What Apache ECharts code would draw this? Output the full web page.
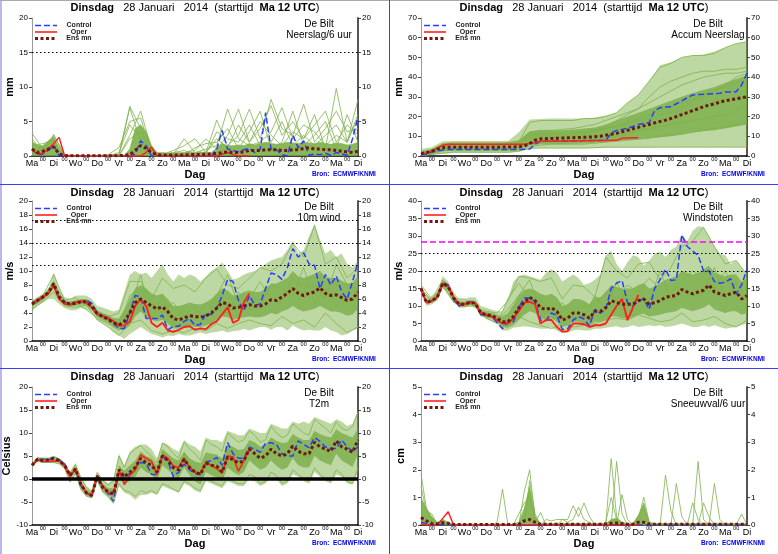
<!DOCTYPE html>
<html><head><meta charset="utf-8">
<script src="https://cdn.jsdelivr.net/npm/echarts@6/dist/echarts.min.js"></script>
<style>html,body{margin:0;padding:0;background:#fff}#c{width:778px;height:554px}</style>
</head><body><div id="c"></div>
<script>
// ---------- tick labels ----------
const dayNames = ['Ma','Di','Wo','Do','Vr','Za','Zo','Ma','Di','Wo','Do','Vr','Za','Zo','Ma','Di'];
const midnightLabel = '00';
const titleText = '{b|Dinsdag}   28 Januari   2014  (starttijd  {b|Ma 12 UTC})';
const station = 'De Bilt';
const source = 'Bron:  ECMWF/KNMI';
const legendNames = ['Control','Oper','Ens mn'];

// ---------- panel 1: Neerslag/6 uur (6-hourly, 61 steps) ----------
const precipControl = [1.0,0.2,0.3,0.8,1.5,0.1,0,0,0,0, 0,0,0,0,0,0,0,0,0,0.3, 2.2,1.5,0,0,0,0,0,0,0,0, 0,0,0,0,1.0,3.7,1.0,0.8,0.6,0.9, 1.1,0.5,1.0,6.3,1.0,0.9,0.2,0,3.0,1.2, 2.2,0.1,0.3,0.2,0.4,0.1,0.5,0.3,0.1,2.5, 5.7];
const precipOper = [1.0,0.3,0.4,1.0,1.8,2.7,0,0,0,0, 0,0,0,0,0,0,0,0,0,0, 0,0.5,1.3,0,0,0,0,0,0,0, 0,0,0,0,0,0.3,0.5,0.2,0,0, 0];
const precipMean = [1.0,0.5,0.7,1.0,1.3,0.3,0.05,0.02,0.02,0.02, 0.02,0.02,0.02,0.02,0.05,0.05,0.05,0.1,0.2,0.8, 1.5,1.1,0.5,0.2,0.15,0.15,0.15,0.15,0.15,0.2, 0.2,0.2,0.25,0.3,0.35,0.5,0.6,0.5,0.5,0.6, 0.8,0.8,0.8,0.9,0.9,0.9,0.8,0.8,0.9,0.9, 1.1,1.2,1.0,1.0,0.9,0.9,0.8,0.7,0.6,0.5, 0.7];
const precipDense = [2.0,1.5,1.5,2.2,2.8,0.8,0.2,0.1,0.1,0.1, 0.1,0.1,0.1,0.1,0.1,0.2,0.1,0.1,1.0,4.0, 4.5,3.5,1.5,0.5,0.4,0.4,0.4,0.5,0.4,0.5, 0.5,0.6,0.5,0.5,1.2,1.8,1.5,1.5,1.6,1.5, 1.8,1.6,1.8,2.0,1.8,1.7,1.8,2.0,1.9,1.8, 2.0,1.9,1.8,2.0,1.8,1.7,1.9,1.8,1.6,1.7, 2.0];
// members, 12-hourly (31 steps)
const precipMember1 = [3.3,1.0,3.0,0,0,0,0,0,0,7.0, 2.0,0,0,0,0.5,0.8,2.5,1.0,3.0,6.8, 2.0,4.0,7.3,3.0,5.0,2.5,6.0,1.0,9.8,2.0, 8.2];
const precipMember2 = [1.5,1.8,2.2,0,0,0,0,0.2,1.2,5.0, 5.5,0.5,0.2,0.8,1.5,2.5,0.5,5.2,1.5,3.0, 6.8,2.5,8.2,4.0,3.0,7.5,2.0,4.0,6.5,3.5, 4.0];
const precipMember3 = [2.5,0.5,1.5,0,0,0,0,0,0,3.0, 6.5,1.0,0,0.3,0.2,1.2,1.8,2.0,4.0,1.0, 3.5,6.5,1.0,2.0,6.5,1.5,3.0,5.0,1.0,6.0, 2.0];
const precipMember4 = [1.0,0.3,3.1,0.2,0,0,0,0,0.5,4.5, 2.5,0.2,0.5,0.2,2.5,0.5,1.0,1.5,6.8,2.5, 1.5,2.0,3.5,7.0,2.5,4.5,3.5,1.5,3.0,2.0, 5.5];
const precipMember5 = [2.0,1.2,2.5,0,0,0,0,0,0.2,7.2, 4.0,0.3,0.1,0.2,0.5,0.3,0.5,2.5,1.2,4.5, 2.0,5.0,3.0,1.5,3.5,2.5,4.5,6.5,2.0,4.5, 3.0];
const precipMember6 = [0.8,0.8,1.8,0,0,0,0,0,0,2.5, 3.5,0.1,0.3,0.5,0.8,0.2,0.3,3.5,2.5,2.0, 4.5,1.5,2.0,5.0,1.5,3.0,1.5,3.0,4.5,2.0, 6.0];
const precipLevels = [15];

// ---------- panel 2: Accum Neerslag ----------
const accumControl = [0.5,1.0,2.0,2.5,3.0,3.3,3.3,3.3,3.3,3.3, 3.3,3.3,3.3,3.3,3.3,3.3,3.3,3.3,3.3,3.4, 3.5,6.0,7.5,7.5,7.6,7.6,7.6,7.7,7.7,7.7, 7.8,7.8,7.8,7.9,8.0,11.5,13.0,13.5,14.0,15.0, 16.0,16.5,17.0,23.0,24.5,24.8,25.0,26.5,28.0,29.5, 31.0,31.2,31.3,31.5,31.6,31.8,32.5,32.5,32.6,36.0, 42.0];
const accumOper = [1.0,1.5,2.5,4.0,5.5,6.0,6.0,6.0,6.0,6.0, 6.0,6.0,6.0,6.0,6.0,6.0,6.0,6.0,6.0,6.0, 6.3,6.8,7.5,7.5,7.5,7.5,7.6,7.6,7.6,7.7, 7.7,7.7,7.8,7.8,7.9,8.0,8.0,9.0,9.1,9.2, 9.2];
const accumMean = [1.2,1.7,2.5,3.5,4.2,4.5,4.5,4.5,4.5,4.5, 4.5,4.5,4.5,4.5,4.5,4.5,4.6,4.6,4.7,5.0, 6.3,8.0,8.7,8.8,8.9,9.0,9.1,9.2,9.3,9.4, 9.5,9.6,9.8,10.0,10.5,11.0,11.5,12.3,13.0,13.8, 14.5,15.3,16.0,16.8,17.5,18.2,19.0,20.0,21.0,22.0, 23.0,24.0,25.0,25.8,26.5,27.3,28.0,28.5,29.0,29.5, 30.0];
// 12-hourly envelopes and members (31 steps)
const accumLow = [0.2,0.8,1.0,1.5,1.5,1.5,1.5,1.5,1.5,2.0, 3.5,4.0,4.0,4.0,4.0,4.0,4.0,4.2,4.3,4.3, 4.3,4.3,4.4,4.4,4.4,4.4,4.5,4.5,4.5,4.5, 4.5];
const accumHigh = [3.5,4.5,7.5,7.5,7.5,7.5,7.5,7.5,7.5,12.0, 18.5,18.8,19,19,19,19,19.5,20.5,22,27, 31,38,46,47.5,50,51,51.5,53,55,57, 58];
const accumCoreLow = [0.5,1.5,2.5,3.0,3.0,3.0,3.0,3.0,3.0,3.5, 5.5,6.0,6.0,6.0,6.2,6.4,6.7,7.0,7.5,8.0, 8.5,9.0,9.5,10.0,11.0,12.0,12.5,13.0,14.0,15.0, 16.0];
const accumCoreHigh = [2.5,3.5,6.5,6.5,6.5,6.5,6.5,6.5,6.8,8.0, 12.5,13.0,13.0,13.0,13.5,14.0,14.5,16.0,18.0,20.0, 22.0,24.0,26.0,28.0,30.0,32.0,33.5,35.0,37.0,39.0, 41.0];
const accumMember1 = [1,3,6,7,7,7,7,7,7,7, 17,18,18,18,18,19,19,20,22,27, 31,38,45,47,50,51,51,52,55,57, 58];
const accumMember2 = [0.5,2,5,5.5,5.5,5.5,5.5,5.5,5.5,6, 12,13,13,13.5,14,15,16,18,20,22, 24,30,35,38,40,42,43,43,44,44, 45];
const accumMember3 = [0.3,1.5,4,4.5,4.5,4.5,4.5,4.5,4.5,5, 9,10,10,10,10.5,11,12,14,15,16, 18,19,21,22,25,28,30,33,36,40, 42];
const accumMember4 = [0.8,2,3,3,3,3,3,3,3,3.5, 7,7.5,7.5,7.5,7.5,8,8,9,10,11, 13,14,15,16,17,18,19,20,21,23, 25];
const accumMember5 = [0.2,1,2.5,3,3,3,3,3,3,3, 5,5.5,6,6,6,6,6.5,7,7.5,8, 8.5,9,10,10.5,11,12,13,14,15,16, 17];
const accumMember6 = [0.5,1.5,3.5,4,4,4,4,4,4,4.5, 10,11,11,11,11.5,12,13,15,18,21, 24,27,30,33,36,38,40,41,42,42, 43];
const accumMember7 = [0.2,0.8,1.5,2,2,2,2,2,2,2.5, 4,4,4,4,4,4,4.2,4.5,4.5,4.5, 4.5,4.5,4.5,4.5,4.5,4.5,4.5,4.5,4.5,4.5, 4.5];
const accumMember8 = [1,2.5,5.5,6,6,6,6,6,6,6.5, 11,11.5,11.5,12,12,12.5,13,14,15,17, 19,21,23,25,27,29,31,33,35,37, 39];

// ---------- panel 3: 10m wind ----------
const windControl = [5.2,5.7,6.2,6.8,7.8,6.2,5.5,5.2,5.3,5.6, 5.8,5.4,4.0,3.5,3.2,2.5,1.8,1.8,4.0,6.5, 6.3,3.2,3.2,3.2,3.7,1.6,2.1,2.1,2.8,3.2, 2.2,2.4,3.9,3.8,4.7,6.5,8.8,8.5,5.8,4.3, 6.5,5.1,5.3,7.5,9.7,9.5,8.8,10.5,13.2,12.0, 12.6,11.0,10.8,7.5,9.5,8.0,9.3,7.0,6.0,8.5, 11.3];
const windOper = [5.3,5.8,6.3,6.8,7.9,6.0,5.3,5.2,5.5,5.7, 5.5,4.8,3.8,3.6,3.3,2.8,2.2,2.2,2.8,5.0, 6.0,5.0,2.6,2.0,2.6,1.5,1.3,1.6,2.0,2.1, 1.6,1.8,1.7,2.4,2.8,3.8,4.8,2.6,3.0,5.5, 6.8];
const windMean = [5.3,5.8,6.3,6.9,8.2,6.3,5.5,5.3,5.4,5.6, 5.6,5.0,3.9,3.5,3.1,2.6,2.3,2.8,4.0,5.5, 6.0,5.5,5.0,4.6,4.9,4.2,3.2,3.0,3.3,3.6, 3.5,3.4,3.6,4.0,4.7,5.5,5.3,4.7,4.8,5.0, 5.2,5.0,5.0,5.3,5.9,5.8,6.3,6.8,7.5,6.8, 6.5,6.8,7.0,7.6,6.8,6.5,6.6,6.2,5.8,6.0, 7.0];
const windLow = [4.2,5.0,5.5,6.0,6.0,5.3,4.7,4.4,4.4,4.7, 4.5,4.0,3.0,2.5,2.0,1.2,0.8,0.3,1.0,1.5, 2.0,1.5,1.0,0.8,0.5,0.8,0.7,1.0,0.8,0.8, 1.0,1.2,1.0,1.2,1.3,1.5,1.2,1.4,1.5,1.7, 1.5,1.8,2.0,2.0,1.6,2.0,2.0,1.5,2.2,1.8, 1.5,1.6,1.5,1.5,2.0,1.5,1.3,0.8,1.0,1.5, 1.8];
const windHigh = [5.8,6.3,6.8,7.5,9.8,7.5,6.3,6.0,6.5,6.5, 6.5,6.0,5.0,4.8,4.5,4.2,4.5,7.0,9.5,10.0, 9.5,9.8,9.0,10.0,11.0,9.5,8.5,9.5,9.0,9.5, 9.2,8.5,9.2,10.0,10.5,11.2,10.0,8.8,9.0,9.5, 9.8,10.0,10.5,11.0,11.5,11.8,12.0,13.0,14.3,12.5, 13.0,15.0,16.7,14.5,12.5,13.0,12.0,12.5,11.0,10.5, 11.5];
const windCoreLow = [4.9,5.4,5.9,6.5,7.6,5.8,5.1,4.9,5.0,5.2, 5.2,4.5,3.4,3.0,2.6,2.0,1.6,1.6,2.2,3.5, 4.2,3.5,3.0,2.8,3.0,2.5,1.8,1.8,2.0,2.2, 2.0,2.0,2.2,2.5,3.0,3.5,3.4,3.0,3.2,3.4, 3.5,3.4,3.4,3.6,4.0,3.8,4.2,4.5,5.0,4.5, 4.2,4.4,4.6,5.0,4.6,4.2,4.2,4.0,3.6,3.8, 4.6];
const windCoreHigh = [5.6,6.0,6.6,7.2,8.6,6.8,5.9,5.6,5.8,6.0, 6.0,5.5,4.4,4.0,3.7,3.3,3.2,4.5,6.0,7.5, 8.0,7.5,6.8,6.5,6.8,6.0,5.0,5.0,5.2,5.5, 5.3,5.2,5.5,6.0,6.8,7.5,7.2,6.5,6.6,7.0, 7.2,7.0,7.0,7.5,8.2,8.2,8.6,9.0,10.0,9.2, 9.0,9.3,9.6,10.0,9.2,9.0,9.0,8.6,8.2,8.3, 9.3];
const windMember1 = [5.6,6.5,9.5,5.8,6.2,5.0,4.2,3.5,4.0,8.5, 8.5,6.0,9.0,7.5,8.0,7.0,9.0,10.3,8.0,7.5, 9.0,10.5,10.0,11.0,14.0,12.0,16.5,11.0,12.0,9.0, 10.5];
const windMember2 = [4.6,5.6,7.0,5.0,4.8,5.2,3.0,2.0,0.8,2.5, 3.0,1.5,1.0,1.5,1.2,1.8,1.5,2.5,1.8,2.5, 3.0,2.5,2.2,3.5,2.5,3.0,2.0,4.0,2.5,1.2, 2.0];
const windMember3 = [5.2,6.2,8.5,5.3,5.8,5.3,3.8,3.0,2.0,6.5, 7.5,5.5,4.0,5.5,3.5,5.0,3.0,6.5,9.5,5.0, 6.0,8.5,6.0,5.5,9.0,7.5,8.0,6.0,11.0,8.0, 7.5];
const windMember4 = [5.0,5.8,7.8,5.5,5.5,4.5,3.2,2.5,1.5,4.5, 9.5,3.0,6.5,2.5,4.5,3.0,5.5,4.5,4.0,7.0, 4.5,5.0,8.0,7.5,6.5,10.5,5.5,7.5,5.0,6.5, 5.5];
const windLevels = [10.8,13.9,17.2];

// ---------- panel 4: Windstoten ----------
const gustControl = [15.0,11.0,11.5,12.5,16.8,16.0,12.0,10.0,10.8,11.2, 10.8,7.5,7.3,7.0,5.3,3.5,5.5,5.5,9.5,12.3, 12.3,11.3,6.0,5.8,8.0,7.3,3.3,3.5,6.0,7.0, 6.3,4.3,9.0,8.0,9.0,15.0,16.5,17.3,11.0,10.0, 11.5,12.0,9.0,15.0,17.5,20.5,17.3,17.5,30.3,27.0, 25.7,24.5,20.0,20.0,17.0,16.5,16.8,17.8,13.5,16.0, 20.5];
const gustOper = [14.8,11.0,11.5,12.5,16.5,15.5,12.5,10.5,10.5,11.0, 10.8,8.0,7.5,7.0,6.0,5.0,5.0,6.5,8.5,11.0, 11.2,10.5,5.0,6.0,6.0,4.0,2.7,2.8,5.0,5.0, 4.8,4.0,4.5,4.5,5.0,7.5,10.0,12.0,6.0,9.5, 13.2];
const gustMean = [15.0,11.0,11.5,12.5,16.5,15.5,12.3,10.5,10.5,11.0, 10.8,8.0,7.5,7.3,6.5,5.5,5.5,7.0,9.5,11.0, 12.5,11.5,9.5,9.0,9.5,8.5,6.0,6.5,8.0,8.0, 7.5,6.5,8.5,8.5,9.5,11.5,11.0,10.5,10.5,10.5, 11.5,12.0,10.5,11.0,11.5,12.5,12.8,13.0,14.7,14.0, 13.5,14.0,14.5,16.0,14.0,13.5,13.0,13.5,14.0,12.0, 13.0];
const gustLow = [14.0,10.0,10.5,11.5,15.0,14.0,11.0,9.5,9.5,10.0, 9.8,7.0,6.5,6.0,5.0,3.0,3.0,3.8,4.0,4.2, 4.0,3.8,3.5,3.5,3.8,3.0,2.2,2.5,3.0,3.2, 3.0,3.0,3.5,3.5,3.8,4.0,4.2,3.8,4.0,4.5, 4.0,4.2,4.5,4.2,4.5,4.0,4.2,4.5,5.0,4.5, 4.0,4.0,4.5,4.0,4.5,4.0,3.5,3.8,4.0,4.5, 5.0];
const gustHigh = [16.5,12.0,13.0,14.0,18.5,17.0,14.0,12.0,12.0,12.5, 12.5,10.0,9.5,9.0,8.5,8.5,12.0,17.0,18.5,19.0, 18.5,18.0,17.5,19.5,20.5,19.5,17.0,18.0,19.0,18.0, 16.0,16.5,17.5,19.0,24.5,25.8,22.0,20.0,22.5,24.5, 24.0,21.5,23.0,25.0,25.5,24.0,26.0,27.0,30.5,28.5, 31.5,32.8,32.5,30.0,27.0,25.0,24.5,22.0,23.0,21.0, 19.0];
const gustCoreLow = [14.5,10.5,11,12,15.5,14.7,11.6,9.8,9.8,10.3, 10.1,7.2,6.7,6.5,5.5,4.0,3.8,4.5,6.0,7.5, 8.5,8.0,6.5,6.0,6.5,5.5,4.0,4.5,5.5,5.5, 5.0,4.5,5.5,5.5,6.0,7.0,7.0,6.5,6.5,6.8, 7.5,7.8,7.0,7.2,7.5,8.0,8.2,8.5,9.5,9.0, 8.5,9.0,9.5,10.5,9.0,8.5,8.0,8.5,8.5,7.5, 8.0];
const gustCoreHigh = [15.5,11.5,12,13,17.5,16.3,13,11.2,11.2,11.7, 11.5,8.8,8.3,8.0,7.5,7.0,8.0,10.5,13.0,14.5, 15.0,14.5,13.5,13.0,13.5,12.5,10.0,10.5,12.0,12.0, 11.5,10.5,12.5,12.5,14.0,16.0,15.5,15.0,15.0,15.0, 16.0,16.5,15.0,15.5,16.5,17.5,18.0,18.5,20.0,19.5, 19.0,19.5,20.5,21.5,19.5,19.0,18.5,19.0,19.0,17.0, 18.0];
const gustMember1 = [16,12,17.5,12,12,9.5,8.5,8.0,11.5,18.5, 18.0,17,18,12,16,15.5,12.5,24.0,20,18, 22,22.5,17.5,21,27,28.5,32.5,27,22,23, 19];
const gustMember2 = [14.5,10.8,15.5,11.2,10,9.9,6.6,5.2,4.5,7, 5.5,4.5,3.5,5,4,4.5,5,6,6.5,6, 7.5,6.5,5.5,6,8,5.5,6,7,5,4, 6];
const gustMember3 = [15,11.5,16.5,11,10.5,10.5,6.5,5,12,16.5, 12.5,12,8,7,9,10,10,14,12,16, 14,18,15,14,17,20,18,15,20,13, 15];
const gustMember4 = [15.2,11,16,11.5,11,10.2,7.2,5.8,9,13, 17.5,9,6,11,6.5,7,13,9,17,10, 12,11,20,12,15,13,14,21,12,17, 11];
const gustLevels = [20,25];
const gustAlarm = [28.5];

// ---------- panel 5: T2m ----------
const tempControl = [3.0,4.2,4.3,4.2,4.5,4.2,3.3,0.7,2.0,-1.5, -3.0,-3.7,0.5,-1.8,-3.2,-4.8,1.6,0.4,1.2,2.5, 3.6,3.4,1.0,1.0,5.0,4.0,0.5,1.5,3.2,2.0, 1.2,1.0,3.7,4.0,4.7,3.0,7.9,5.5,4.5,4.5, 6.9,6.5,5.8,7.8,7.9,7.5,5.5,5.0,5.0,8.3, 7.5,6.8,9.0,8.2,7.0,6.7,6.6,8.5,7.0,6.0, 7.0];
const tempOper = [3.0,4.2,3.8,3.8,3.9,3.9,2.8,0.5,2.3,-1.0, -3.0,-3.5,0.8,-1.5,-3.0,-3.2,1.8,-1.2,0.8,2.0, 5.2,4.5,3.8,1.0,5.2,4.5,2.8,2.5,4.5,2.5, 1.5,1.3,3.6,3.0,2.3,1.3,5.0,4.8,1.7,4.0, 6.5];
const tempMean = [3.0,4.3,4.0,4.2,4.5,4.0,3.0,0.8,2.2,-1.2, -3.0,-3.6,0.6,-1.8,-2.8,-3.3,2.0,0.5,1.5,2.5, 4.5,3.5,3.0,1.5,5.0,4.0,2.5,2.0,4.3,2.5, 1.5,1.0,3.5,3.0,2.8,1.5,4.8,4.2,3.5,4.0, 6.5,5.5,4.5,5.0,6.5,5.5,5.0,5.5,7.2,6.0, 5.5,5.5,8.0,7.0,6.5,6.0,8.3,7.0,6.5,5.8, 8.5];
const tempLow = [2.5,3.8,3.5,3.5,3.5,3.2,2.2,-0.8,1.0,-2.5, -3.8,-4.2,-0.5,-3.0,-4.0,-5.5,-1.5,-3.0,-3.5,-4.5, -3.5,-3.5,-3.0,-3.5,-1.5,-2.0,-2.5,-3.0,-1.0,-1.5, -2.5,-3.0,-0.5,-1.0,-1.5,-2.0,-0.5,-1.0,-1.5,-1.5, 0,-0.5,-1.5,-1.0,0.5,0,-1.5,-1.0,1.0,0.5, -0.5,-1.0,1.5,0.5,-0.5,-1.0,1.0,0.5,-1.0,-1.2, 1.5];
const tempHigh = [3.5,4.7,4.7,4.6,5.0,4.5,3.5,1.5,3.5,0.5, -1.5,-2.5,1.5,0,-1,0,5.5,3.0,6.0,7.0, 7.5,7.5,6.5,4.5,8.0,7.5,6.5,6.0,8.5,7.5, 7.0,6.0,9.0,8.5,8.5,8.0,10.5,10.0,9.5,9.5, 11.0,10.5,10.0,10.0,12.0,11.5,11.0,11.0,12.5,12.0, 12.5,12.0,13.5,13.0,12.5,12.0,13.0,12.5,11.5,12.0, 15.0];
const tempCoreLow = [2.7,4.0,3.7,3.9,4.2,3.6,2.6,0.3,1.6,-1.8, -3.5,-4.0,0.0,-2.6,-3.5,-4.3,0.5,-1.0,-0.5,0.5, 2.5,1.5,1.0,-0.3,3.0,2.0,0.8,0.2,2.5,0.8, -0.5,-1.2,1.5,0.8,0.3,-0.5,2.5,1.5,0.8,1.5, 4.0,3.0,2.0,2.5,4.0,2.8,2.0,2.5,4.5,3.0, 2.5,2.5,5.0,4.0,3.5,3.0,5.5,4.0,3.3,2.6, 5.5];
const tempCoreHigh = [3.3,4.5,4.3,4.4,4.8,4.3,3.3,1.2,2.8,-0.5, -2.3,-3.0,1.0,-1.0,-2.0,-2.0,3.0,1.8,3.0,4.0, 6.0,5.0,4.5,3.0,6.5,5.5,4.5,4.0,6.0,4.5, 3.8,3.5,5.8,5.5,5.3,4.5,7.5,7.0,6.3,6.5, 8.5,8.0,7.0,7.5,9.0,8.3,7.8,8.0,9.8,9.0, 8.5,8.5,10.5,9.8,9.3,9.0,10.8,10.0,9.5,9.0, 11.0];
const tempMember1 = [3.3,4.6,4.5,4.5,4.9,4.4,3.4,1.4,3.2,0.2, -1.8,-2.8,1.4,-0.3,-1.3,-0.5,5.0,2.5,5.5,6.5, 7.3,6.0,5.0,3.5,7.8,7.0,5.5,4.5,8.0,6.5, 5.5,4.0,8.5,7.5,7.0,6.0,10.0,9.0,8.0,8.5, 10.5,9.5,8.0,8.5,11.5,10.0,9.0,9.5,12.0,11.0, 10.0,9.5,13.0,12.0,11.0,10.0,12.5,11.0,10.5,11.5, 14.5];
const tempMember2 = [2.6,3.9,3.6,3.6,3.6,3.3,2.3,-0.6,1.2,-2.3, -3.7,-4.1,-0.3,-2.8,-3.8,-5.2,-1.0,-2.5,-2.8,-3.8, -2.5,-3.0,-2.5,-3.2,-1.0,-1.5,-2.2,-2.8,-0.5,-1.0, -2.0,-2.5,0.0,-0.5,-1.0,-1.5,0.5,-0.5,-1.0,-1.0, 1.0,0.5,-1.0,-0.5,1.5,0.8,-1.0,-0.5,2.0,1.0, 0.0,-0.5,2.5,1.0,0.0,-0.5,2.0,1.0,-0.5,-1.0, 2.5];
const tempMember3 = [3.0,4.3,4.1,4.1,4.4,3.9,2.9,0.6,2.0,-1.5, -3.2,-3.8,0.5,-2.0,-3.0,-3.8,1.5,0.5,1.0,2.0, 5.5,4.0,3.0,1.5,6.0,4.5,2.0,1.0,5.5,3.5, 1.0,0.0,4.5,2.5,2.0,1.0,6.5,5.0,3.0,2.5, 7.5,6.0,3.5,4.0,8.0,6.5,4.5,5.0,9.0,7.0, 5.0,4.5,10.0,8.0,6.0,5.0,9.5,7.5,6.0,5.5, 9.0];
const tempZero = [0];

// ---------- panel 6: Sneeuwval/6 uur ----------
const snowControl = [0.1,0.05,0,0,0.03,0,0,0,0,0, 0,0,0,0,0,0,0,0,0,0, 0,0,0,0,0,0,0,0,0,0, 0,0,0,0,0,0,0,0,0,0, 0,0,0,0,0,0,0,0,0,0, 0,0,0,0,0,0,0,0,0,0, 0];
const snowOper = [0.05,0,0,0,0.24,0.48,0,0,0,0, 0,0,0,0,0,0,0,0,0,0, 0,0,0,0,0,0,0,0,0,0, 0,0,0,0,0,0,0,0,0,0, 0];
const snowMean = [0.27,0.15,0.05,0.04,0.08,0.06,0.02,0.02,0.02,0.02, 0.02,0.02,0.02,0.02,0.02,0.02,0.02,0.02,0.03,0.15, 0.2,0.1,0.03,0.03,0.03,0.03,0.03,0.03,0.03,0.03, 0.03,0.03,0.03,0.03,0.04,0.06,0.07,0.05,0.03,0.03, 0.1,0.1,0.03,0.03,0.03,0.03,0.03,0.03,0.03,0.03, 0.03,0.03,0.03,0.03,0.03,0.03,0.03,0.03,0.03,0.03, 0.03];
const snowDense = [1.0,0.6,0.3,0.1,0.2,0.1,0.03,0.03,0.03,0.03, 0.03,0.03,0.03,0.03,0.03,0.03,0.03,0.03,0.1,0.6, 1.4,0.3,0.05,0.05,0.05,0.05,0.05,0.05,0.05,0.05, 0.05,0.05,0.05,0.05,0.05,0.2,0.25,0.1,0.05,0.05, 0.35,0.8,0.1,0.05,0.05,0.05,0.05,0.05,0.05,0.05, 0.05,0.05,0.05,0.05,0.05,0.05,0.05,0.05,0.05,0.05, 0.05];
const snowMember1 = [1.85,0.6,0.2,0,0,0,0,0,0,0, 0,0,0,0,0,0,0,0,0,1.2, 2.0,0.2,0,0,0,0,0,0,0,0, 0,0,0,0,0,2.4,0.3,0,0,0, 0,0,0,0,0,0,0,0,0,0, 0,2.3,0.2,0,0,0,0,0,0,0, 0];
const snowMember2 = [1.4,0.5,0.4,0,0,0,0,0,0,0, 0,0,0,0,0.1,1.3,0,0,0,0, 1.6,0.4,0,0,0,0,0,0,0,0, 0,0,0,0,0,0,2.3,0.4,0,0, 0,0,0,0,0,1.8,0.5,0,0,0, 0,0,0,0,1.5,0.2,0,0,0,0, 0];
const snowMember3 = [0.8,0.55,0.1,0,0.15,0,0,0,0,0, 0,0,0,0,0,0,0,0,0,0.3, 1.2,0.1,0.45,0,0,0,0.2,0.2,0.7,0.3, 0.8,0.3,0,0,0,0,0,1.1,0.2,0, 0.2,1.0,0.1,0,0,0,0,1.5,0.3,0, 0.8,0.2,0,0,0,0,0,0,0,0.4, 0];
const snowMember4 = [0.5,0.3,0,0,0.1,0,0,0,0,0, 0,0,0,0,0,0,0,0,0.4,0.8, 1.0,0.3,0,0.2,0.15,0.2,0.2,0.1,0.2,0.65, 0.2,0.1,0,0,0.1,1.0,0.2,0.1,0,0, 0.3,0.6,0.1,0,0,0,0,0,0,0, 0,0,0.8,0.3,0,0,0,0,0,0, 0];

// ---------- styling / layout ----------
const FONT = 'Liberation Sans, Arial, Helvetica, sans-serif';
const GREEN = '#7fb24a';
const OUTER = 'rgba(125,178,72,0.50)';
const CORE = 'rgba(112,168,58,0.70)';
const DENSE = 'rgba(116,172,62,0.85)';
const C_CTRL = '#2a3cff', C_OPER = '#ff2020', C_MEAN = '#6e1a10';
const colX = [0, 389], rowY = [0, 185, 369];
const gridTop = [18, 201, 387], gridH = [138, 140, 138];
const PW = 326;

const dotted = v => ({yAxis: v, lineStyle: {color: '#000', type: [1.5, 2.5], width: 1.2}});
const panels = [
  {col:0,row:0,min:0,max:20,iv:5,yname:'mm',label:'Neerslag/6 uur',ctrl:precipControl,oper:precipOper,mean:precipMean,
   fill:precipDense,members:[precipMember1,precipMember2,precipMember3,precipMember4,precipMember5,precipMember6],mstep:2,bstep:1,
   marks:precipLevels.map(dotted),operW:1.5},
  {col:1,row:0,min:0,max:70,iv:10,yname:'mm',label:'Accum Neerslag',ctrl:accumControl,oper:accumOper,mean:accumMean,
   outer:[accumLow,accumHigh],core:[accumCoreLow,accumCoreHigh],bstep:2,
   members:[accumMember1,accumMember2,accumMember3,accumMember4,accumMember5,accumMember6,accumMember7,accumMember8],mstep:2,marks:[],operW:1.5},
  {col:0,row:1,min:0,max:20,iv:2,yname:'m/s',label:'10m wind',ctrl:windControl,oper:windOper,mean:windMean,
   outer:[windLow,windHigh],core:[windCoreLow,windCoreHigh],bstep:1,
   members:[windMember1,windMember2,windMember3,windMember4],mstep:2,marks:windLevels.map(dotted),operW:1.9},
  {col:1,row:1,min:0,max:40,iv:5,yname:'m/s',label:'Windstoten',ctrl:gustControl,oper:gustOper,mean:gustMean,
   outer:[gustLow,gustHigh],core:[gustCoreLow,gustCoreHigh],bstep:1,
   members:[gustMember1,gustMember2,gustMember3,gustMember4],mstep:2,operW:1.9,
   marks:gustLevels.map(dotted).concat(gustAlarm.map(v => ({yAxis:v, lineStyle:{color:'#ff00ff', type:[6,3], width:1.5}})))},
  {col:0,row:2,min:-10,max:20,iv:5,yname:'Celsius',label:'T2m',ctrl:tempControl,oper:tempOper,mean:tempMean,
   outer:[tempLow,tempHigh],core:[tempCoreLow,tempCoreHigh],bstep:1,
   members:[tempMember1,tempMember2,tempMember3],mstep:1,operW:1.7,
   marks:tempZero.map(v => ({yAxis:v, lineStyle:{color:'#000', type:'solid', width:3.5}}))},
  {col:1,row:2,min:0,max:5,iv:1,yname:'cm',label:'Sneeuwval/6 uur',ctrl:snowControl,oper:snowOper,mean:snowMean,
   fill:snowDense,members:[snowMember1,snowMember2,snowMember3,snowMember4],mstep:1,bstep:1,marks:[],operW:1.5}
];

const P = (arr, step) => arr.map((v, i) => [i * step, v]);

const grid = [], xAxis = [], yAxis = [], series = [], title = [], graphic = [];

panels.forEach((p, gi) => {
  const px = colX[p.col], gt = gridTop[p.row], gh = gridH[p.row], py = rowY[p.row];
  grid.push({left: px + 32, top: gt, width: PW, height: gh});
  xAxis.push({
    type: 'value', gridIndex: gi, min: 0, max: 60, interval: 2,
    axisLine: {onZero: false, lineStyle: {color: '#000', width: 1.5}},
    axisTick: {show: false}, splitLine: {show: false},
    axisLabel: {margin: 3, color: '#000', fontFamily: FONT,
      formatter: v => (v % 4 === 0 ? '{d|' + dayNames[v / 4] + '}' : '{z|' + midnightLabel + '}'),
      rich: {d: {fontSize: 9, lineHeight: 10, color: '#000', fontFamily: FONT},
             z: {fontSize: 5.5, lineHeight: 1, color: '#000', fontFamily: FONT}}},
    name: 'Dag', nameLocation: 'middle', nameGap: 12,
    nameTextStyle: {fontSize: 11, fontWeight: 'bold', color: '#000', fontFamily: FONT}
  });
  const yBase = {type: 'value', gridIndex: gi, min: p.min, max: p.max, interval: p.iv, splitLine: {show: false},
    axisLabel: {fontSize: 8, color: '#000', margin: 4, fontFamily: FONT}};
  yAxis.push(Object.assign({}, yBase, {position: 'left',
    axisLine: {show: true, onZero: false, lineStyle: {color: '#9a9a9a', width: 1}},
    axisTick: {show: true, length: 3, lineStyle: {color: '#444'}},
    name: p.yname, nameLocation: 'middle', nameGap: 15,
    nameTextStyle: {fontSize: 11, fontWeight: 'bold', color: '#000', fontFamily: FONT}}));
  yAxis.push(Object.assign({}, yBase, {position: 'right',
    axisLine: {show: true, onZero: false, lineStyle: {color: '#555', width: 2}},
    axisTick: {show: true, length: 3, lineStyle: {color: '#444'}}}));

  const base = {type: 'line', xAxisIndex: gi, yAxisIndex: 2 * gi, symbol: 'none', silent: true, animation: false};
  // ensemble envelope drawn as one polygon through the axes' coordinate conversion
  const band = (lohi, color) => {
    const lo = lohi[0], hi = lohi[1];
    series.push({type: 'custom', xAxisIndex: gi, yAxisIndex: 2 * gi, silent: true, animation: false, clip: true,
      data: lo.map((v, i) => [i * p.bstep, v, hi[i]]),
      encode: {x: 0, y: [1, 2]},
      renderItem: (params, api) => {
        if (params.dataIndexInside !== 0) return null;
        const n = lo.length, top = [], bot = [];
        for (let k = 0; k < n; k++) {
          top.push(api.coord([api.value(0, k), api.value(2, k)]));
          bot.push(api.coord([api.value(0, k), api.value(1, k)]));
        }
        return {type: 'polygon', shape: {points: top.concat(bot.reverse())}, style: {fill: color, stroke: null}};
      }});
  };
  if (p.outer) band(p.outer, OUTER);
  if (p.core) band(p.core, CORE);
  if (p.fill) series.push(Object.assign({}, base, {data: P(p.fill, p.bstep), lineStyle: {width: 0.6, color: GREEN}, areaStyle: {color: DENSE, opacity: 1}}));
  p.members.forEach(m => series.push(Object.assign({}, base, {data: P(m, p.mstep), lineStyle: {width: 0.8, color: GREEN}})));
  series.push(Object.assign({}, base, {name: 'Control', data: P(p.ctrl, 1), lineStyle: {width: 1.5, color: C_CTRL, type: [6, 3]},
    markLine: {silent: true, symbol: ['none', 'none'], label: {show: false}, animation: false, data: p.marks}}));
  series.push(Object.assign({}, base, {name: 'Oper', data: P(p.oper, 1), lineStyle: {width: p.operW, color: C_OPER}}));
  series.push(Object.assign({}, base, {name: 'Ens mn', data: P(p.mean, 1), lineStyle: {width: 3, color: C_MEAN, type: [3, 2.5], cap: 'butt'}}));

  title.push({text: titleText, left: px + 195, top: py + 2, textAlign: 'center', textVerticalAlign: 'top', padding: 0,
    textStyle: {fontSize: 11, fontWeight: 'normal', color: '#000', fontFamily: FONT,
      rich: {b: {fontSize: 11, fontWeight: 'bold', color: '#000', fontFamily: FONT}}}});

  // legend (drawn)
  const lx = px + 35, ly = [gt + 7.5, gt + 14, gt + 20.5];
  graphic.push({type: 'line', silent: true, z: 100, shape: {x1: lx, y1: ly[0], x2: lx + 22, y2: ly[0]}, style: {stroke: C_CTRL, lineWidth: 1.5, lineDash: [6, 3]}});
  graphic.push({type: 'line', silent: true, z: 100, shape: {x1: lx, y1: ly[1], x2: lx + 22, y2: ly[1]}, style: {stroke: C_OPER, lineWidth: 1.6}});
  graphic.push({type: 'line', silent: true, z: 100, shape: {x1: lx, y1: ly[2], x2: lx + 22, y2: ly[2]}, style: {stroke: C_MEAN, lineWidth: 3, lineDash: [3, 2.5]}});
  legendNames.forEach((n, k) => graphic.push({type: 'text', silent: true, z: 100, x: px + 79, y: ly[k],
    style: {text: n, font: 'bold 7px ' + FONT, fill: '#222', align: 'center', verticalAlign: 'middle'}}));
  // station / parameter
  graphic.push({type: 'text', silent: true, z: 100, x: px + 319, y: gt + 6,
    style: {text: station, font: '10px ' + FONT, fill: '#000', align: 'center', verticalAlign: 'middle'}});
  graphic.push({type: 'text', silent: true, z: 100, x: px + 319, y: gt + 17,
    style: {text: p.label, font: '10px ' + FONT, fill: '#000', align: 'center', verticalAlign: 'middle'}});
  graphic.push({type: 'text', silent: true, z: 100, x: px + 312, y: gt + gh + 18,
    style: {text: source, font: 'bold 6.5px ' + FONT, fill: '#0000ee', align: 'left', verticalAlign: 'middle'}});
});

// panel frames
graphic.push({type: 'rect', silent: true, z: 100, shape: {x: 0, y: 0, width: 2, height: 554}, style: {fill: '#b8b8f0'}});
graphic.push({type: 'line', silent: true, z: 100, shape: {x1: 0, y1: 0.5, x2: 778, y2: 0.5}, style: {stroke: '#aaaaaa', lineWidth: 1}});
graphic.push({type: 'line', silent: true, z: 100, shape: {x1: 389.5, y1: 0, x2: 389.5, y2: 554}, style: {stroke: '#3c3cff', lineWidth: 1}});
graphic.push({type: 'line', silent: true, z: 100, shape: {x1: 0, y1: 184.5, x2: 778, y2: 184.5}, style: {stroke: '#3c3cff', lineWidth: 1}});
graphic.push({type: 'line', silent: true, z: 100, shape: {x1: 0, y1: 368.5, x2: 778, y2: 368.5}, style: {stroke: '#3c3cff', lineWidth: 1}});

const chart = echarts.init(document.getElementById('c'), null, {renderer: 'canvas', width: 778, height: 554});
chart.setOption({
  animation: false,
  backgroundColor: '#ffffff',
  textStyle: {fontFamily: FONT},
  title, grid, xAxis, yAxis, series, graphic
});
</script>
</body></html>
